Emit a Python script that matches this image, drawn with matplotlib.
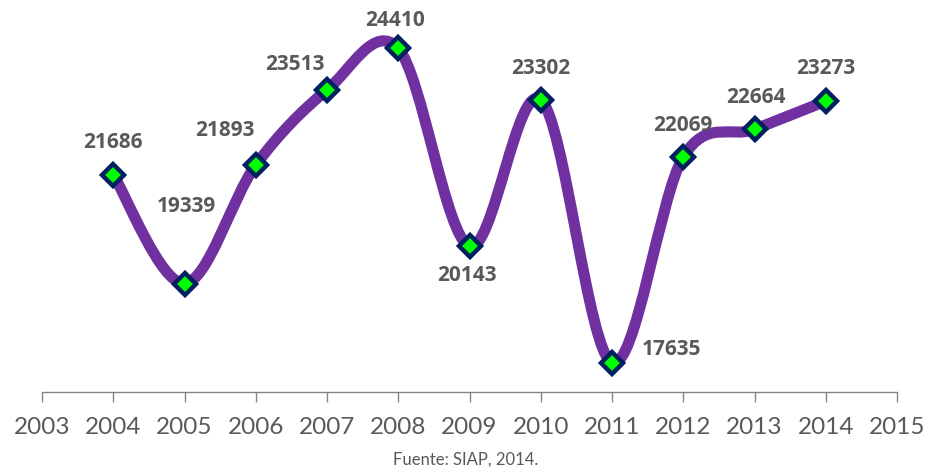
import numpy as np
import matplotlib
matplotlib.use("Agg")
import matplotlib.pyplot as plt
from matplotlib.path import Path
from matplotlib.patches import PathPatch

# --------------- DATA ---------------
years = [2004, 2005, 2006, 2007, 2008, 2009, 2010, 2011, 2012, 2013, 2014]
values = [21686, 19339, 21893, 23513, 24410, 20143, 23302, 17635, 22069, 22664, 23273]
tick_years = list(range(2003, 2016))
caption = "Fuente: SIAP, 2014."

# label offsets in pixels (dx, dy)
label_offsets = [(0, 32), (2, 77), (-31, 35), (-32, 25), (-3, 28), (-3, -29),
                 (0, 31), (60, 13), (0, 31), (1, 32), (0, 33)]

purple = "#7030A0"
gray = "#595959"

# --------------- FIGURE ---------------
fig = plt.figure(figsize=(9.31, 4.70), dpi=100)
ax = fig.add_axes([42 / 931, 78 / 470, 855 / 931, 371 / 470])
ax.set_xlim(2003, 2015)
ax.set_ylim(17000, 25000)

# smoothed line (Excel style bezier through points)
x = np.array(years, dtype=float)
y = np.array(values, dtype=float)
verts = [(x[0], y[0])]
codes = [Path.MOVETO]
n = len(x)
for i in range(n - 1):
    p0 = np.array([x[max(i - 1, 0)], y[max(i - 1, 0)]])
    p1 = np.array([x[i], y[i]])
    p2 = np.array([x[i + 1], y[i + 1]])
    p3 = np.array([x[min(i + 2, n - 1)], y[min(i + 2, n - 1)]])
    c1 = p1 + (p2 - p0) / 6
    c2 = p2 - (p3 - p1) / 6
    verts += [tuple(c1), tuple(c2), tuple(p2)]
    codes += [Path.CURVE4] * 3
ax.add_patch(PathPatch(Path(verts, codes), facecolor="none", edgecolor=purple,
                       linewidth=8, capstyle="round", joinstyle="round", zorder=2))

ax.plot(years, values, linestyle="none", marker="D", markersize=11.5,
        markerfacecolor="#00FF00", markeredgecolor="#002060", markeredgewidth=3.2, zorder=3)

for xv, yv, (dx, dy) in zip(years, values, label_offsets):
    ax.annotate(str(yv), (xv, yv), xytext=(dx, dy), textcoords="offset pixels",
                ha="center", va="center", fontsize=15, fontweight="bold",
                color=gray, family="Open Sans")

# axes styling
for s in ["left", "right", "top"]:
    ax.spines[s].set_visible(False)
ax.spines["bottom"].set_color("#868686")
ax.spines["bottom"].set_linewidth(1)
ax.set_yticks([])
ax.set_xticks(tick_years)
ax.set_xticklabels([str(t) for t in tick_years], family="Lato", fontsize=17.5, color=gray)
ax.tick_params(axis="x", direction="out", length=7, width=1, color="#868686", pad=11)

fig.text(466 / 931, 1 - 460 / 470, caption, ha="center", va="center",
         fontsize=12, color=gray, family="Lato")

fig.savefig("out.png", dpi=100)
